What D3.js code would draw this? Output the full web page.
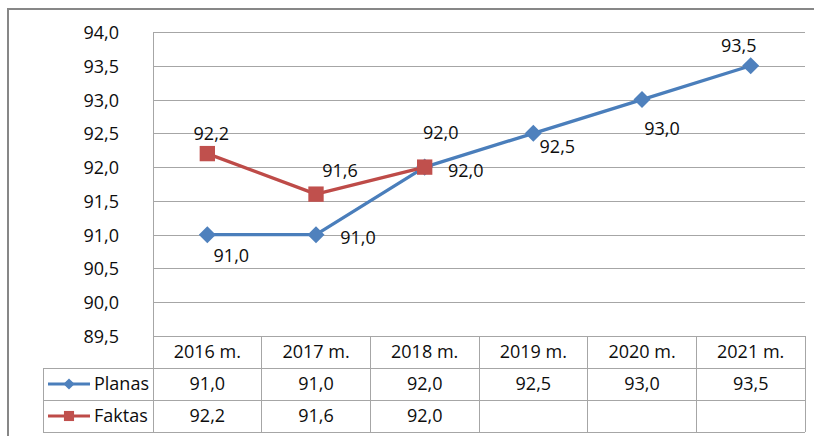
<!DOCTYPE html>
<html>
<head>
<meta charset="utf-8">
<script src="https://cdn.jsdelivr.net/npm/d3@7"></script>
<style>
  html, body { margin: 0; padding: 0; background: #fff; }
  svg { display: block; }
  text { font-family: "Open Sans", "Noto Sans", sans-serif; fill: #0d0d0d; }
</style>
</head>
<body>
<svg id="chart" width="814" height="436"></svg>
<script>
// ---- data ----
const categories = ["2016 m.", "2017 m.", "2018 m.", "2019 m.", "2020 m.", "2021 m."];
const planas = [91.0, 91.0, 92.0, 92.5, 93.0, 93.5];
const faktas = [92.2, 91.6, 92.0, null, null, null];
const seriesNames = ["Planas", "Faktas"];
const yTicks = [89.5, 90.0, 90.5, 91.0, 91.5, 92.0, 92.5, 93.0, 93.5, 94.0];
// label offsets (pixels) relative to each marker
const planasLabelOffsets = [[24, 21], [42, 3], [41, 3], [24, 13], [20, 29], [-12, -20]];
const faktasLabelOffsets = [[4, -20], [24, -24], [16, -35], null, null, null];

// ---- layout ----
const plot = { left: 153, right: 805, top: 32, bottom: 336 };
const legendLeft = 43;
const rowH = 32;
const colors = {
  planasLine: "#4A7EBB", planasMarker: "#4F81BD",
  faktasLine: "#BE4B48", faktasMarker: "#C0504D",
  grid: "#A6A6A6", frame: "#878787"
};

const fmtLocale = d3.formatLocale({ decimal: ",", thousands: " ", grouping: [3], currency: ["", ""] });
const fmt = fmtLocale.format(".1f");

const svg = d3.select("#chart");

// outer frame (extends beyond the visible area)
svg.append("rect")
  .attr("x", 8).attr("y", 9).attr("width", 900).attr("height", 600)
  .attr("fill", "#fff").attr("stroke", colors.frame).attr("stroke-width", 2);

const x = d3.scaleBand().domain(categories).range([plot.left, plot.right]);
const y = d3.scaleLinear().domain([89.5, 94]).range([plot.bottom, plot.top]);
const cx = d => x(d) + x.bandwidth() / 2;

// gridlines
const grid = svg.append("g")
  .attr("transform", `translate(${plot.left},0)`)
  .call(d3.axisLeft(y).tickValues(yTicks).tickSize(-(plot.right - plot.left)).tickFormat(""));
grid.select(".domain").remove();
grid.selectAll(".tick line").attr("stroke", colors.grid).attr("stroke-width", 1).attr("shape-rendering", "crispEdges");

// y axis labels
const yAxis = svg.append("g")
  .attr("transform", `translate(${plot.left},0)`)
  .call(d3.axisLeft(y).tickValues(yTicks).tickSize(0).tickPadding(34).tickFormat(fmt));
yAxis.select(".domain").remove();
yAxis.selectAll("text")
  .style("font-family", '"Open Sans", "Noto Sans", sans-serif')
  .attr("font-size", 18).attr("fill", "#0d0d0d").attr("dy", "0.36em");

// plot left border
const tableBottom = plot.bottom + rowH * 3;
svg.append("line")
  .attr("x1", plot.left).attr("x2", plot.left)
  .attr("y1", plot.top).attr("y2", tableBottom)
  .attr("stroke", colors.grid).attr("stroke-width", 1).attr("shape-rendering", "crispEdges");

// ---- data table ----
const tbl = svg.append("g").attr("class", "table");
const rowYs = [plot.bottom, plot.bottom + rowH, plot.bottom + 2 * rowH, plot.bottom + 3 * rowH];
[1, 2, 3].forEach(r => {
  tbl.append("line").attr("x1", legendLeft).attr("x2", plot.right)
    .attr("y1", rowYs[r]).attr("y2", rowYs[r]);
});
categories.forEach(c => {
  tbl.append("line").attr("x1", x(c) + x.bandwidth()).attr("x2", x(c) + x.bandwidth())
    .attr("y1", plot.bottom).attr("y2", tableBottom);
});
tbl.append("line").attr("x1", legendLeft).attr("x2", legendLeft)
  .attr("y1", rowYs[1]).attr("y2", tableBottom);
tbl.selectAll("line").attr("stroke", colors.grid).attr("stroke-width", 1).attr("shape-rendering", "crispEdges");

// header texts
tbl.selectAll("text.hdr").data(categories).join("text")
  .attr("class", "hdr")
  .attr("x", d => cx(d)).attr("y", rowYs[0] + rowH / 2).attr("dy", "0.36em")
  .attr("text-anchor", "middle").attr("font-size", 18).text(d => d);

const tableSeries = [planas, faktas];
tableSeries.forEach((vals, i) => {
  tbl.selectAll(`text.row${i}`).data(categories).join("text")
    .attr("class", `row${i}`)
    .attr("x", d => cx(d)).attr("y", rowYs[i + 1] + rowH / 2).attr("dy", "0.36em")
    .attr("text-anchor", "middle").attr("font-size", 18)
    .text((d, j) => vals[j] == null ? "" : fmt(vals[j]));
});

// legend keys
const diamond = d3.symbol().type(d3.symbolDiamond2);
const square = d3.symbol().type(d3.symbolSquare2);
function legendKey(i, lineColor, markerColor, sym, size) {
  const yy = rowYs[i + 1] + rowH / 2;
  const g = tbl.append("g");
  g.append("line").attr("x1", 48).attr("x2", 90).attr("y1", yy).attr("y2", yy)
    .attr("stroke", lineColor).attr("stroke-width", 3);
  g.append("path").attr("d", sym.size(size)()).attr("transform", `translate(69,${yy})`)
    .attr("fill", markerColor);
  g.append("text").attr("x", 94).attr("y", yy).attr("dy", "0.36em")
    .attr("font-size", 18).text(seriesNames[i]);
}
legendKey(0, colors.planasLine, colors.planasMarker, diamond, 80);
legendKey(1, colors.faktasLine, colors.faktasMarker, square, 130);

// ---- series ----
const line = d3.line().defined(d => d.v != null).x(d => cx(d.c)).y(d => y(d.v));
const pData = categories.map((c, i) => ({ c, v: planas[i], off: planasLabelOffsets[i] }));
const fData = categories.map((c, i) => ({ c, v: faktas[i], off: faktasLabelOffsets[i] }));

svg.append("path").datum(pData).attr("d", line)
  .attr("fill", "none").attr("stroke", colors.planasLine).attr("stroke-width", 3.3).attr("stroke-linejoin", "round");
svg.append("path").datum(fData).attr("d", line)
  .attr("fill", "none").attr("stroke", colors.faktasLine).attr("stroke-width", 3.3).attr("stroke-linejoin", "round");

svg.append("g").selectAll("path").data(pData.filter(d => d.v != null)).join("path")
  .attr("d", diamond.size(185)())
  .attr("transform", d => `translate(${cx(d.c)},${y(d.v)})`)
  .attr("fill", colors.planasMarker);
svg.append("g").selectAll("path").data(fData.filter(d => d.v != null)).join("path")
  .attr("d", square.size(300)())
  .attr("transform", d => `translate(${cx(d.c)},${y(d.v)})`)
  .attr("fill", colors.faktasMarker);

// data labels
function labels(data) {
  svg.append("g").selectAll("text").data(data.filter(d => d.v != null)).join("text")
    .attr("x", d => cx(d.c) + d.off[0]).attr("y", d => y(d.v) + d.off[1]).attr("dy", "0.36em")
    .attr("text-anchor", "middle").attr("font-size", 18).text(d => fmt(d.v));
}
labels(pData);
labels(fData);
</script>
</body>
</html>
